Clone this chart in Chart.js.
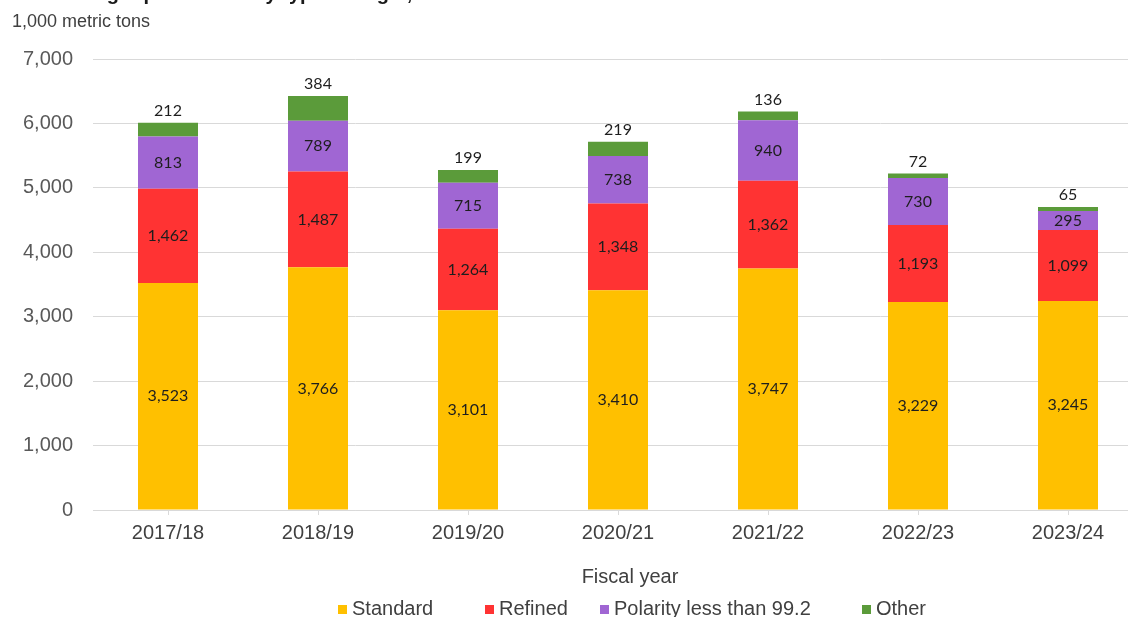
<!DOCTYPE html>
<html>
<head>
<meta charset="utf-8">
<script src="https://cdn.jsdelivr.net/npm/chart.js@4"></script>
<style>
  html, body { margin: 0; padding: 0; background: #fff; overflow: hidden; }
</style>
</head>
<body>
<canvas id="sugarChart" width="1143" height="617"></canvas>
<script>
const years = ['2017/18', '2018/19', '2019/20', '2020/21', '2021/22', '2022/23', '2023/24'];
const standard = [3523, 3766, 3101, 3410, 3747, 3229, 3245];
const refined = [1462, 1487, 1264, 1348, 1362, 1193, 1099];
const polarity = [813, 789, 715, 738, 940, 730, 295];
const other = [212, 384, 199, 219, 136, 72, 65];
const yTicks = [0, 1000, 2000, 3000, 4000, 5000, 6000, 7000];

const AXIS_FONT = '"Liberation Sans", Arial, sans-serif';
const LABEL_FONT = 'Lato, "Open Sans", sans-serif';

// texts outside the plot: cut-off title, unit, axis title, legend
const extraText = {
    id: 'extraText',
    afterDraw(chart) {
        const ctx = chart.ctx;
        ctx.save();
        ctx.fillStyle = '#1a1a1a';
        ctx.font = 'bold 20px ' + AXIS_FONT;
        ctx.textAlign = 'left';
        ctx.textBaseline = 'alphabetic';
        ctx.fillText('Mexico sugar production by type of sugar, 2017/18–2023/24', 10, 0);

        ctx.fillStyle = '#404040';
        ctx.font = '18px ' + AXIS_FONT;
        ctx.textBaseline = 'middle';
        ctx.fillText('1,000 metric tons', 12, 22);

        ctx.font = '20px ' + AXIS_FONT;
        ctx.textAlign = 'center';
        ctx.fillText('Fiscal year', 630, 577);

        // legend, built from the datasets
        const legendX = [338, 485, 600, 862];
        chart.data.datasets.forEach((ds, i) => {
            const x = legendX[i];
            ctx.fillStyle = ds.backgroundColor;
            ctx.fillRect(x, 605, 9, 9);
            ctx.fillStyle = '#404040';
            ctx.textAlign = 'left';
            ctx.fillText(ds.label, x + 14, 609);
        });
        ctx.restore();
    }
};

// value labels on the segments; "Other" goes above the stack
const valueLabels = {
    id: 'valueLabels',
    afterDatasetsDraw(chart) {
        const ctx = chart.ctx;
        ctx.save();
        ctx.font = '16px ' + LABEL_FONT;
        ctx.fillStyle = '#1e1e1e';
        ctx.textAlign = 'center';
        chart.data.datasets.forEach((ds, i) => {
            const meta = chart.getDatasetMeta(i);
            meta.data.forEach((bar, j) => {
                const txt = ds.data[j].toLocaleString('en-US');
                if (i === 3) {
                    ctx.textBaseline = 'bottom';
                    ctx.fillText(txt, bar.x, bar.y - 4);
                } else {
                    ctx.textBaseline = 'middle';
                    ctx.fillText(txt, bar.x, (bar.y + bar.base) / 2);
                }
            });
        });
        ctx.restore();
    }
};

new Chart(document.getElementById('sugarChart'), {
    type: 'bar',
    data: {
        labels: years,
        datasets: [
            { label: 'Standard', data: standard, backgroundColor: '#FFC000' },
            { label: 'Refined', data: refined, backgroundColor: '#FF3333' },
            { label: 'Polarity less than 99.2', data: polarity, backgroundColor: '#A066D3' },
            { label: 'Other', data: other, backgroundColor: '#5B9B3A' }
        ]
    },
    options: {
        responsive: false,
        animation: false,
        barPercentage: 0.4,
        categoryPercentage: 1.0,
        layout: { padding: { top: 59, bottom: 0, left: 0, right: 0 } },
        plugins: {
            legend: { display: false },
            tooltip: { enabled: false }
        },
        scales: {
            x: {
                stacked: true,
                grid: { display: true, drawOnChartArea: false, offset: false, tickLength: 5, color: '#d9d9d9' },
                border: { color: '#d9d9d9' },
                ticks: { font: { family: AXIS_FONT, size: 20 }, color: '#404040', padding: 6, maxRotation: 0 },
                afterFit(scale) { scale.height = 107; }
            },
            y: {
                stacked: true,
                min: 0,
                max: 7000,
                afterBuildTicks(scale) { scale.ticks = yTicks.map(v => ({ value: v })); },
                grid: { color: '#d9d9d9', drawTicks: false },
                border: { display: false },
                ticks: {
                    font: { family: AXIS_FONT, size: 20 },
                    color: '#595959',
                    padding: 20,
                    callback: v => v.toLocaleString('en-US')
                },
                afterFit(scale) { scale.width = 93; }
            }
        }
    },
    plugins: [valueLabels, extraText]
});
</script>
</body>
</html>
